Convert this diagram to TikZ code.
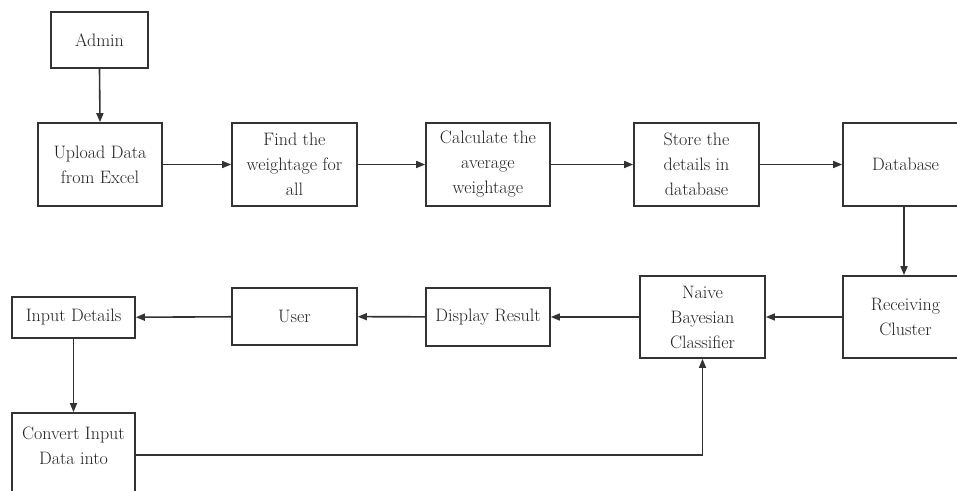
\documentclass[tikz,border=0pt]{standalone}
\usetikzlibrary{arrows.meta,calc}
\definecolor{ink}{HTML}{333333}
\definecolor{tink}{HTML}{222222}
\begin{document}
\begin{tikzpicture}[x=1bp,y=-1bp,
  box/.style={draw=ink,line width=1.7bp,rectangle,align=center,text=tink,inner sep=1bp,
    font=\fontsize{18bp}{25bp}\selectfont},
  txt/.style={align=center,text=tink,inner sep=0bp,font=\fontsize{18bp}{25bp}\selectfont},
  arr/.style={draw=ink,line width=1.6bp,-{Triangle[length=9bp,width=7bp]}}]
\useasboundingbox[fill=white] (0,0) rectangle (957,491);
\node[box,minimum width=97bp,minimum height=56bp] (admin) at (99.5,40) {Admin};
\node[box,minimum width=124bp,minimum height=83bp] (upload) at (100,164.5) {Upload Data\\from Excel};
\node[box,minimum width=125bp,minimum height=83bp] (find) at (294.5,164.5) {Find the\\weightage for\\all};
\node[box,minimum width=124bp,minimum height=83bp] (calc) at (488,164.5) {Calculate the\\average\\weightage};
\node[box,minimum width=125bp,minimum height=83bp] (store) at (696.5,164.5) {Store the\\details in\\database};
\node[box,minimum width=125bp,minimum height=83bp] (db) at (905.5,164.5) {Database};
\node[box,minimum width=125bp,minimum height=82bp] (recv) at (905.5,317) {Receiving\\Cluster};
\node[box,minimum width=125bp,minimum height=82bp] (naive) at (702.5,317) {Naive\\Bayesian\\Classifier};
\node[box,minimum width=124bp,minimum height=58bp] (disp) at (488,317) {Display Result};
\node[box,minimum width=125bp,minimum height=57bp] (user) at (294.5,316.5) {User};
\node[box,minimum width=123bp,minimum height=41bp] (input) at (73.5,317.5) {Input Details};
\node[box,minimum width=123bp,minimum height=110bp] (conv) at (73.5,468) {};
\node[txt,anchor=north] (convtext) at ([yshift=-15bp]conv.north) {Convert Input\\Data into};
\draw[arr] (admin.south) -- (upload.north);
\draw[arr] (upload) -- (find);
\draw[arr] (find) -- (calc);
\draw[arr] (calc) -- (store);
\draw[arr] (store) -- (db);
\draw[arr] ([xshift=-1.5bp]db.south) -- ([xshift=-1.5bp]recv.north);
\draw[arr] (recv) -- (naive);
\draw[arr] (naive) -- (disp);
\draw[arr] (disp) -- (user);
\draw[arr] (user) -- (input);
\draw[arr] (input.south) -- (conv.north);
\draw[arr] (conv.east |- 0,455) -| (naive.south);
\end{tikzpicture}
\end{document}
